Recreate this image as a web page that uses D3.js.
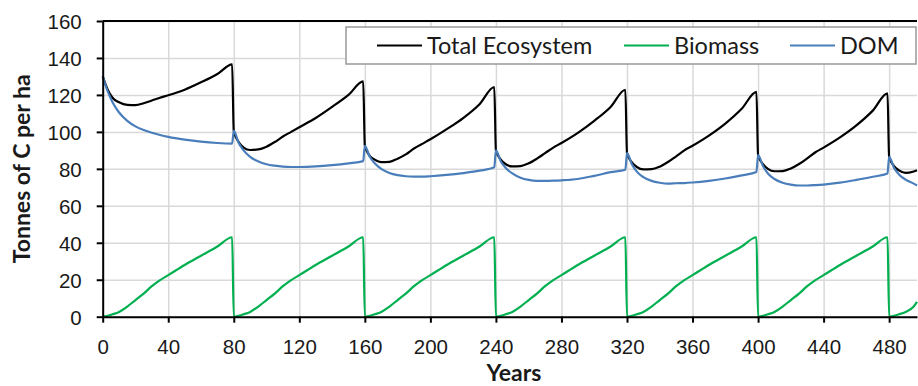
<!DOCTYPE html>
<html>
<head>
<meta charset="utf-8">
<title>Carbon stocks over rotations</title>
<script src="https://d3js.org/d3.v7.min.js"></script>
<style>
body { margin: 0; background: #fff; }
svg { display: block; font-family: "Lato", "Open Sans", sans-serif; }
.grid line { stroke: #d9d9d9; stroke-width: 1.5; }
.grid path { display: none; }
.axis path, .axis line { stroke: #000; stroke-width: 2; }
.axis text { font-size: 20.5px; fill: #1a1a1a; }
.title { font-size: 23px; font-weight: bold; fill: #1a1a1a; }
.legend text { font-size: 23.5px; fill: #1a1a1a; }
</style>
</head>
<body>
<svg id="chart"></svg>
<script>
// years (drop every 80 years)
var years = [0,3,6,10,15,20,25,30,35,40,50,60,70,79,
  80,83,86,90,95,100,105,110,115,120,130,140,150,159,
  160,163,166,170,175,180,185,190,195,200,210,220,230,239,
  240,243,246,250,255,260,265,270,275,280,290,300,310,319,
  320,323,326,330,335,340,345,350,355,360,370,380,390,399,
  400,403,406,410,415,420,425,430,435,440,450,460,470,479,
  480,483,486,490,495,497];

var totalEco = [130,123,118.5,116,114.6,114.5,115.5,117,118.5,119.8,122.8,126.8,131.3,136.5,
  100.5,94.5,91.5,90.2,90.5,92,94.5,97.5,100,102.5,107.5,113.5,120,127.3,
  92.5,87,85,83.6,83.8,85.5,87.8,91,93.5,96,101.5,107.5,115,124.3,
  90,85,82.5,81.3,81.5,83,85.5,88.5,91.5,94,99.5,106,113.5,122.8,
  88.5,83.5,81,79.7,79.8,81.2,83.7,86.8,90,92.5,98,104.5,112.5,121.6,
  87.5,82.5,80,78.7,78.8,80.2,82.6,85.7,89,91.5,97,103.5,111.5,120.8,
  86.5,81.5,79.2,77.8,78.6,79.2];

var biomass = [0,0.5,1.3,2.6,5.5,9,12.5,16.5,19.8,22.5,28,33,38,43,
  0,0.5,1.3,2.6,5.5,9,12.5,16.5,19.8,22.5,28,33,38,43,
  0,0.5,1.3,2.6,5.5,9,12.5,16.5,19.8,22.5,28,33,38,43,
  0,0.5,1.3,2.6,5.5,9,12.5,16.5,19.8,22.5,28,33,38,43,
  0,0.5,1.3,2.6,5.5,9,12.5,16.5,19.8,22.5,28,33,38,43,
  0,0.5,1.3,2.6,5.5,9,12.5,16.5,19.8,22.5,28,33,38,43,
  0,0.5,1.3,2.6,5.5,8];

var dom = [130,122,116,110.5,106,103,101,99.5,98.3,97.3,95.8,94.7,94,93.7,
  100.5,94,90,86.5,84,82.5,81.7,81.2,81,81,81.3,82,83,84.2,
  92.5,86.5,83,80,77.8,76.6,76,75.8,75.8,76,76.7,77.7,79,80.8,
  90,84,80.5,77.5,75.2,74,73.5,73.5,73.6,73.8,74.5,76.2,78.2,79.5,
  88.5,82.5,78.5,75.5,73.5,72.5,72,72.2,72.3,72.6,73.5,74.8,76.5,78.3,
  87.5,81.5,77.5,74.5,72.5,71.5,71,71,71.2,71.5,72.5,74,75.7,77.5,
  86.5,80.5,77,74.2,72,71];

var seriesNames = ["Total Ecosystem", "Biomass", "DOM"];
var seriesColors = ["#000000", "#00b050", "#4a7ebb"];
var xTicks = d3.range(0, 481, 40);
var yTicks = d3.range(0, 161, 20);

var width = 918, height = 386;
var margin = {top: 21, right: 1, bottom: 69.3, left: 102.7};
var innerW = width - margin.left - margin.right;
var innerH = height - margin.top - margin.bottom;

var svg = d3.select("#chart").attr("width", width).attr("height", height);
var g = svg.append("g").attr("transform", "translate(" + margin.left + "," + margin.top + ")");

var x = d3.scaleLinear().domain([0, 497]).range([0, innerW]);
var y = d3.scaleLinear().domain([0, 160]).range([innerH, 0]);

// gridlines
g.append("g").attr("class", "grid")
  .call(d3.axisLeft(y).tickValues(yTicks).tickSize(-innerW).tickFormat(""));
g.append("g").attr("class", "grid")
  .attr("transform", "translate(0," + innerH + ")")
  .call(d3.axisBottom(x).tickValues(xTicks).tickSize(-innerH).tickFormat(""));

// top border
g.append("line").attr("x1", 0).attr("x2", innerW).attr("y1", y(160)).attr("y2", y(160))
  .attr("stroke", "#000").attr("stroke-width", 2);

// lines
var table = [totalEco, biomass, dom];
var line = d3.line()
  .x(function (d, i) { return x(years[i]); })
  .y(function (d) { return y(d); })
  .curve(d3.curveMonotoneX);

table.forEach(function (vals, k) {
  g.append("path")
    .datum(vals)
    .attr("fill", "none")
    .attr("stroke", seriesColors[k])
    .attr("stroke-width", 2.2)
    .attr("stroke-linejoin", "round")
    .attr("d", line);
});

// axes
var yAxis = g.append("g").attr("class", "axis")
  .call(d3.axisLeft(y).tickValues(yTicks).tickSize(6).tickSizeOuter(0).tickPadding(15));
yAxis.selectAll("text").attr("dy", "0.36em");

var xAxis = g.append("g").attr("class", "axis")
  .attr("transform", "translate(0," + innerH + ")")
  .call(d3.axisBottom(x).tickValues(xTicks).tickSize(6).tickSizeOuter(0).tickPadding(17));

// axis titles
svg.append("text").attr("class", "title")
  .attr("transform", "translate(30," + (margin.top + innerH / 2) + ") rotate(-90)")
  .attr("text-anchor", "middle")
  .text("Tonnes of C per ha");

svg.append("text").attr("class", "title")
  .attr("x", 514).attr("y", 381)
  .attr("text-anchor", "middle")
  .text("Years");

// legend
var legend = svg.append("g").attr("class", "legend");
legend.append("rect")
  .attr("x", 346).attr("y", 27).attr("width", 570).attr("height", 37)
  .attr("fill", "#fff").attr("stroke", "#999").attr("stroke-width", 1.5);

var legendX = [377, 624, 790];
seriesNames.forEach(function (name, k) {
  legend.append("line")
    .attr("x1", legendX[k]).attr("x2", legendX[k] + 45)
    .attr("y1", 45.5).attr("y2", 45.5)
    .attr("stroke", seriesColors[k]).attr("stroke-width", 2.2);
  legend.append("text")
    .attr("x", legendX[k] + 50).attr("y", 45.5).attr("dy", "0.36em")
    .text(name);
});
</script>
</body>
</html>
